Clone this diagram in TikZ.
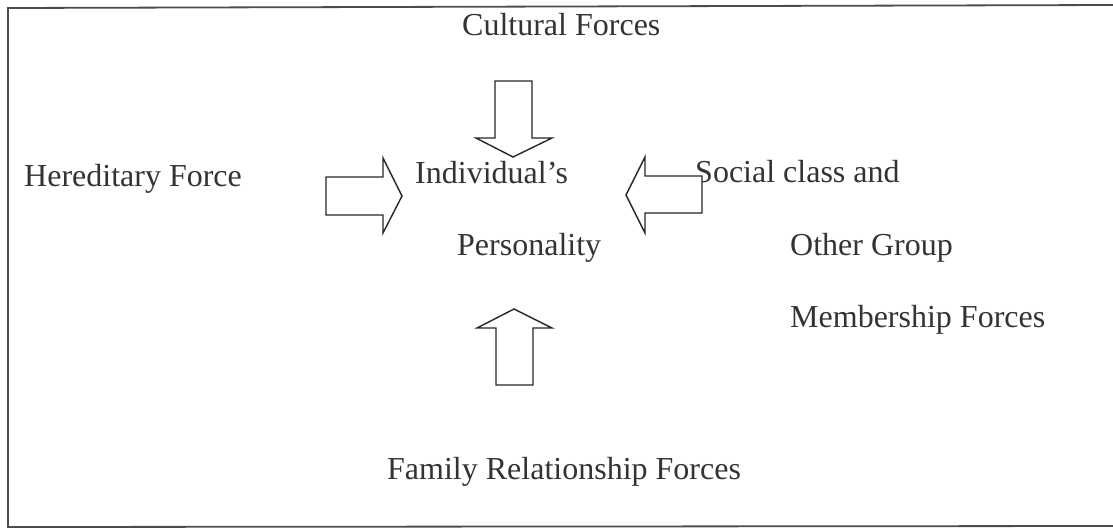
\documentclass[tikz,border=0pt]{standalone}
\usepackage{fontspec}
\setmainfont{Liberation Serif}
\begin{document}
\begin{tikzpicture}[x=1pt,y=-1pt,
  lbl/.style={anchor=base west,inner sep=0pt,text=black!80,font=\fontsize{32}{38}\selectfont},
  blockarrow/.style={draw=black!85,line width=1.4pt,line join=miter,fill=white},
  frameline/.style={draw=black!70,line width=1.8pt}]
\useasboundingbox (0,0) rectangle (1113,528);
% frame (top, left, bottom)
\draw[frameline] (1113,5) -- (8,8) -- (8,527) -- (1113,526);
% texts
\node[lbl] (cult) at (462,35) {Cultural Forces};
\node[lbl] (here) at (24,186) {Hereditary Force};
\node[lbl] (indiv) at (415,183) {Individual’s};
\node[lbl] (pers) at (457,255) {Personality};
\node[lbl] (soc) at (695,182) {Social class and};
\node[lbl] (grp) at (790,255) {Other Group};
\node[lbl] (memb) at (790,327) {Membership Forces};
\node[lbl] (fam) at (387,479) {Family Relationship Forces};
% down arrow (from Cultural Forces)
\draw[blockarrow] (495,81) -- (532,81) -- (532,138) -- (552,138) -- (513,157)
  -- (476,138) -- (495,138) -- cycle;
% right arrow (from Hereditary Force)
\draw[blockarrow] (326,177) -- (383,177) -- (383,158) -- (402,196) -- (383,233)
  -- (383,215) -- (326,215) -- cycle;
% left arrow (from Social class)
\draw[blockarrow] (702,176) -- (645,176) -- (645,157) -- (626,195) -- (645,233)
  -- (645,213) -- (702,213) -- cycle;
% up arrow (from Family Relationship Forces)
\draw[blockarrow] (496,385) -- (533,385) -- (533,328) -- (552,328) -- (514,309)
  -- (477,328) -- (496,328) -- cycle;
\end{tikzpicture}
\end{document}
